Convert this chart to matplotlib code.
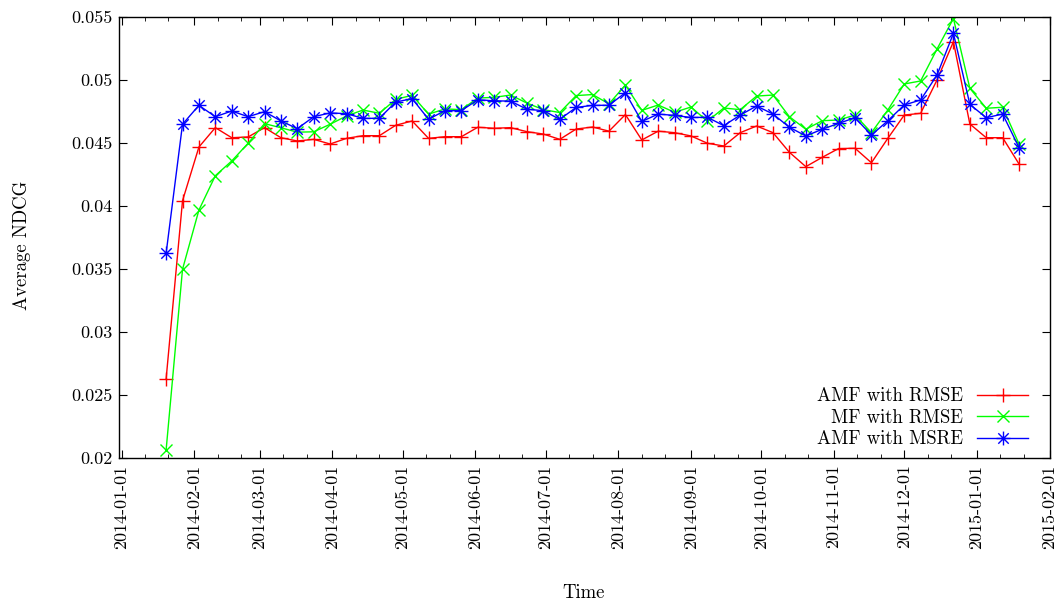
from datetime import datetime

import matplotlib.pyplot as plt
import matplotlib.dates as mdates
import pandas as pd
from matplotlib.path import Path
from matplotlib.ticker import FuncFormatter, MultipleLocator

plt.rcParams['font.family'] = ['cmr10', 'DejaVu Serif']
plt.rcParams['axes.formatter.use_mathtext'] = True
plt.rcParams['font.size'] = 13

# one evaluation per week
weeks = pd.date_range('2014-01-20', periods=53, freq='7D')

amf_rmse = [
    0.02625, 0.04042, 0.04469, 0.04623, 0.04543, 0.04549, 0.04623, 0.04543,
    0.04517, 0.04530, 0.04493, 0.04538, 0.04559, 0.04559, 0.04642, 0.04676,
    0.04538, 0.04551, 0.04551, 0.04626, 0.04618, 0.04623, 0.04591, 0.04572,
    0.04530, 0.04612, 0.04628, 0.04595, 0.04727, 0.04525, 0.04595, 0.04583,
    0.04557, 0.04499, 0.04477, 0.04583, 0.04636, 0.04583, 0.04427, 0.04313,
    0.04387, 0.04457, 0.04459, 0.04344, 0.04538, 0.04723, 0.04737, 0.05002,
    0.05306, 0.04652, 0.04543, 0.04543, 0.04334,
]
mf_rmse = [
    0.02061, 0.03497, 0.03968, 0.04241, 0.04358, 0.04499, 0.04655, 0.04622,
    0.04587, 0.04590, 0.04650, 0.04716, 0.04763, 0.04737, 0.04848, 0.04880,
    0.04730, 0.04772, 0.04766, 0.04858, 0.04864, 0.04882, 0.04818, 0.04766,
    0.04743, 0.04878, 0.04886, 0.04812, 0.04962, 0.04760, 0.04803, 0.04745,
    0.04787, 0.04674, 0.04779, 0.04766, 0.04874, 0.04882, 0.04710, 0.04610,
    0.04678, 0.04684, 0.04723, 0.04583, 0.04763, 0.04970, 0.04994, 0.05248,
    0.05490, 0.04936, 0.04777, 0.04785, 0.04493,
]
amf_msre = [
    0.03624, 0.04650, 0.04800, 0.04710, 0.04755, 0.04710, 0.04750, 0.04676,
    0.04615, 0.04710, 0.04740, 0.04734, 0.04697, 0.04697, 0.04827, 0.04853,
    0.04690, 0.04758, 0.04758, 0.04845, 0.04836, 0.04834, 0.04769, 0.04758,
    0.04689, 0.04784, 0.04800, 0.04801, 0.04901, 0.04672, 0.04731, 0.04720,
    0.04704, 0.04705, 0.04639, 0.04723, 0.04795, 0.04731, 0.04626, 0.04557,
    0.04610, 0.04657, 0.04702, 0.04564, 0.04678, 0.04803, 0.04843, 0.05041,
    0.05373, 0.04808, 0.04702, 0.04731, 0.04464,
]

# gnuplot style asterisk: a plus and a cross drawn on top of each other
asterisk = Path(
    [(-1, 0), (1, 0), (0, -1), (0, 1),
     (-0.75, -0.75), (0.75, 0.75), (-0.75, 0.75), (0.75, -0.75)],
    [Path.MOVETO, Path.LINETO] * 4)

fig = plt.figure(figsize=(10.6, 6.07), dpi=100)
ax = fig.add_axes([0.1125, 0.246, 0.8776, 0.7255])

ax.plot(weeks, amf_rmse, color='#ff0000', marker='+', ms=10, mew=1,
        lw=1, label='AMF with RMSE')
ax.plot(weeks, mf_rmse, color='#00ff00', marker='x', ms=9, mew=1,
        lw=1, label='MF with RMSE')
ax.plot(weeks, amf_msre, color='#0000ff', marker=asterisk, ms=10, mew=1,
        mfc='none', lw=1, label='AMF with MSRE')

ax.set_xlim(datetime(2013, 12, 31), datetime(2015, 2, 1))
ax.set_ylim(0.02, 0.055)

ax.xaxis.set_major_locator(mdates.MonthLocator())
ax.xaxis.set_minor_locator(mdates.DayLocator(bymonthday=[11, 21]))
ax.xaxis.set_major_formatter(mdates.DateFormatter('%Y-%m-%d'))
ax.yaxis.set_major_locator(MultipleLocator(0.005))
ax.yaxis.set_major_formatter(FuncFormatter(lambda v, p: '%g' % round(v, 4)))
plt.setp(ax.get_xticklabels(), rotation=90, ha='center')

ax.tick_params(which='both', direction='in', top=True, right=True)
ax.tick_params(which='major', length=6, pad=5)
ax.tick_params(which='minor', length=3)
for spine in ax.spines.values():
    spine.set_linewidth(1.0)

ax.legend(loc='lower right', bbox_to_anchor=(0.985, 0.004), frameon=False,
          markerfirst=False, fontsize=13.5, handlelength=2.7,
          handletextpad=0.75, labelspacing=0.2, borderaxespad=0)

fig.text(22 / 1060, 1 - 245 / 607, 'Average NDCG', rotation=90,
         ha='center', va='center', fontsize=13.5)
fig.text(584 / 1060, 1 - 593 / 607, 'Time', ha='center', va='center',
         fontsize=13.5)

fig.savefig('out.png', dpi=100)
